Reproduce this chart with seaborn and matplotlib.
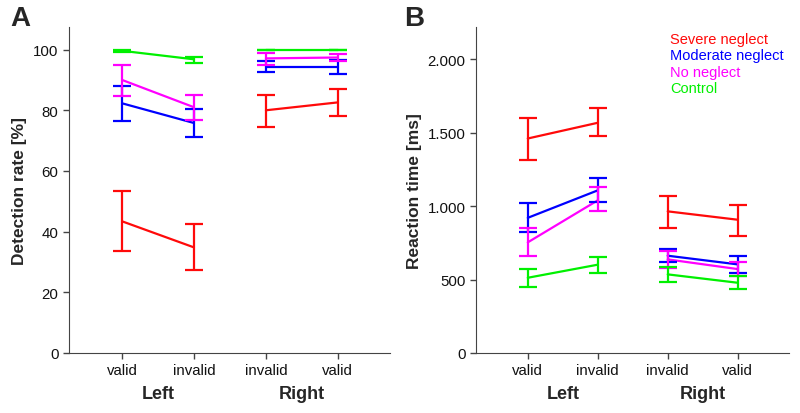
import numpy as np
import pandas as pd
import matplotlib
matplotlib.use("Agg")
import matplotlib.pyplot as plt
import matplotlib.transforms as mtransforms
from matplotlib.ticker import FuncFormatter
import seaborn as sns

# ---------------- data ----------------
groups = ["Severe neglect", "Moderate neglect", "No neglect", "Control"]
colors = ["#FF0A0A", "#0000FF", "#FF00FF", "#00F000"]
conditions = ["valid", "invalid", "invalid", "valid"]
sides = ["Left", "Left", "Right", "Right"]
side_labels = ["Left", "Right"]

# Detection rate [%] : mean, lower, upper  (Left valid, Left invalid, Right invalid, Right valid)
det_mean = {
    "Severe neglect":   [43.4, 34.8, 80.0, 82.6],
    "Moderate neglect": [82.3, 75.8, 94.2, 94.2],
    "No neglect":       [90.0, 81.0, 97.1, 97.4],
    "Control":          [99.6, 96.8, 99.9, 99.9],
}
det_lo = {
    "Severe neglect":   [33.5, 27.3, 74.6, 78.0],
    "Moderate neglect": [76.3, 71.2, 92.7, 92.1],
    "No neglect":       [84.7, 76.9, 94.9, 96.3],
    "Control":          [99.2, 95.6, 99.9, 99.9],
}
det_hi = {
    "Severe neglect":   [53.3, 42.4, 85.0, 87.0],
    "Moderate neglect": [88.0, 80.4, 96.2, 96.5],
    "No neglect":       [95.0, 84.9, 98.8, 98.5],
    "Control":          [100.0, 97.7, 99.9, 99.9],
}

# Reaction time [ms]
rt_mean = {
    "Severe neglect":   [1460, 1567, 964, 907],
    "Moderate neglect": [920, 1107, 662, 603],
    "No neglect":       [753, 1039, 637, 571],
    "Control":          [512, 601, 535, 478],
}
rt_lo = {
    "Severe neglect":   [1311, 1476, 852, 798],
    "Moderate neglect": [821, 1027, 619, 544],
    "No neglect":       [658, 966, 578, 522],
    "Control":          [449, 544, 485, 435],
}
rt_hi = {
    "Severe neglect":   [1599, 1669, 1070, 1009],
    "Moderate neglect": [1020, 1188, 705, 658],
    "No neglect":       [852, 1127, 692, 617],
    "Control":          [569, 653, 583, 523],
}

# ---------------- style ----------------
sns.set_style("ticks")
plt.rcParams["font.family"] = ["Liberation Sans", "DejaVu Sans"]
plt.rcParams["axes.edgecolor"] = "#444444"
plt.rcParams["xtick.color"] = "#444444"
plt.rcParams["ytick.color"] = "#444444"
plt.rcParams["xtick.labelcolor"] = "#111111"
plt.rcParams["ytick.labelcolor"] = "#111111"

fig = plt.figure(figsize=(8.0, 4.14), dpi=100)
axA = fig.add_axes([0.086, 0.145, 0.402, 0.787])
axB = fig.add_axes([0.595, 0.145, 0.391, 0.787])

palette = dict(zip(groups, colors))
xpos = list(range(len(conditions)))


def make_df(mean, lo, hi):
    rows = []
    for g in groups:
        for i, x in enumerate(xpos):
            rows.append(dict(group=g, x=x, side=sides[i], mean=mean[g][i],
                             lo=lo[g][i], hi=hi[g][i]))
    return pd.DataFrame(rows)


def draw(ax, df, ylim, yticks, ylabel):
    sns.lineplot(data=df, x="x", y="mean", hue="group", units="side",
                 estimator=None, palette=palette, hue_order=groups,
                 linewidth=1.6, legend=False, ax=ax)
    for g in groups:
        sub = df[df.group == g]
        err = np.vstack([sub["mean"] - sub["lo"], sub["hi"] - sub["mean"]])
        ax.errorbar(sub["x"], sub["mean"], yerr=err, fmt="none",
                    ecolor=palette[g], elinewidth=1.6, capsize=6.5,
                    capthick=1.6)
    ax.set_xlim(-0.74, 3.73)
    ax.set_ylim(*ylim)
    ax.set_yticks(yticks)
    ax.set_xticks(xpos)
    ax.set_xticklabels(conditions, fontsize=10.8)
    ax.tick_params(axis="y", labelsize=10.8, length=4, width=1)
    ax.tick_params(axis="x", length=4, width=1)
    ax.set_xlabel("")
    ax.set_ylabel(ylabel, fontsize=12.5, fontweight="bold")
    sns.despine(ax=ax)
    trans = mtransforms.blended_transform_factory(ax.transData, ax.transAxes)
    ax.text(0.5, -0.098, side_labels[0], transform=trans, ha="center",
            va="top", fontsize=13, fontweight="bold")
    ax.text(2.5, -0.098, side_labels[1], transform=trans, ha="center",
            va="top", fontsize=13, fontweight="bold")


dfA = make_df(det_mean, det_lo, det_hi)
dfB = make_df(rt_mean, rt_lo, rt_hi)

draw(axA, dfA, (0, 107.4), [0, 20, 40, 60, 80, 100], "Detection rate [%]")
draw(axB, dfB, (0, 2218), [0, 500, 1000, 1500, 2000], "Reaction time [ms]")
axB.yaxis.set_major_formatter(
    FuncFormatter(lambda v, p: f"{int(v):,}".replace(",", ".")))

# panel letters
fig.text(0.013, 0.985, "A", fontsize=20, fontweight="bold", va="top")
fig.text(0.505, 0.985, "B", fontsize=20, fontweight="bold", va="top")

# legend as coloured text
for i, (g, c) in enumerate(zip(groups, colors)):
    axB.text(0.62, 0.965 - i * 0.051, g, color=c, fontsize=10.5,
             transform=axB.transAxes, va="center", ha="left")

fig.savefig("out.png", dpi=100)
